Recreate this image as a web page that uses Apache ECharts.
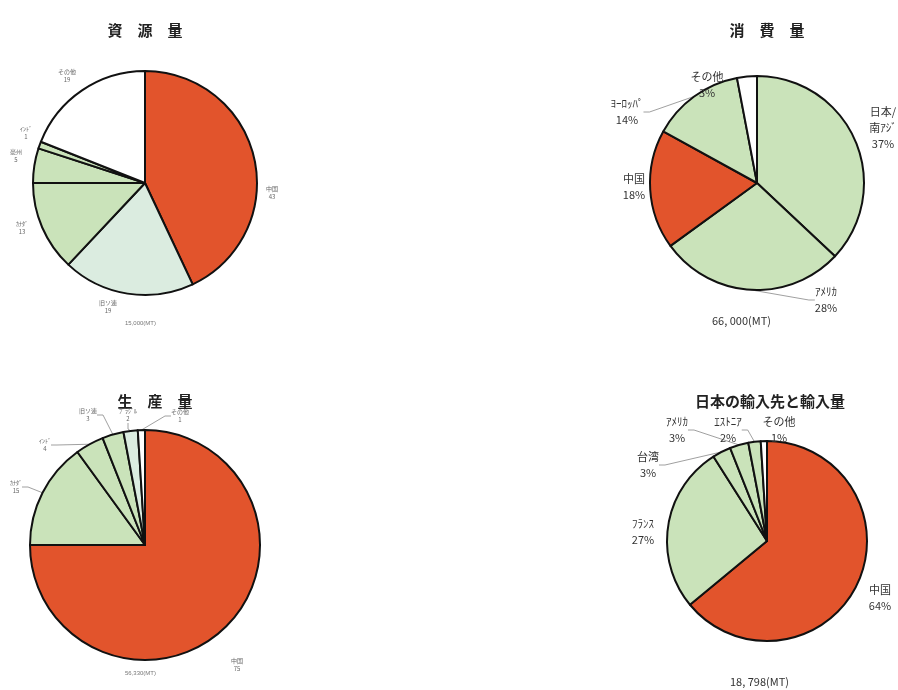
<!DOCTYPE html>
<html><head><meta charset="utf-8">
<script src="https://cdn.jsdelivr.net/npm/echarts@6/dist/echarts.min.js"></script>
<style>html,body{margin:0;padding:0;background:#fff}#c{width:898px;height:690px}</style>
</head><body><div id="c"></div>
<script>
// ---- data ----
const resNames = ['中国', '旧ソ連', 'ｶﾅﾀﾞ', '豪州', 'ｲﾝﾄﾞ', 'その他'];
const resValues = [43, 19, 13, 5, 1, 19];
const conNames = ['日本/\n南ｱｼﾞ', 'ｱﾒﾘｶ', '中国', 'ﾖｰﾛｯﾊﾟ', 'その他'];
const conValues = [37, 28, 18, 14, 3];
const proNames = ['中国', 'ｶﾅﾀﾞ', 'ｲﾝﾄﾞ', '旧ソ連', 'ﾌﾞﾗｼﾞﾙ', 'その他'];
const proValues = [75, 15, 4, 3, 2, 1];
const impNames = ['中国', 'ﾌﾗﾝｽ', '台湾', 'ｱﾒﾘｶ', 'ｴｽﾄﾆｱ', 'その他'];
const impValues = [64, 27, 3, 3, 2, 1];
const totals = ['15,000(MT)', '66, 000(MT)', '56,330(MT)', '18, 798(MT)'];
const titles = ['資　源　量', '消　費　量', '生　産　量', '日本の輸入先と輸入量'];

// ---- styles ----
const RED = '#e2542c', GRN = '#cae3ba', LGT = '#dbece0', WHT = '#ffffff';
const resColors = [RED, LGT, GRN, GRN, GRN, WHT];
const conColors = [GRN, GRN, RED, GRN, WHT];
const proColors = [RED, GRN, GRN, GRN, LGT, WHT];
const impColors = [RED, GRN, GRN, GRN, GRN, WHT];

const resPos = [[272,193],[108,307],[22,228],[16,156],[26,133],[67,76]];
const conPos = [[883,128],[826,300],[634,187],[627,112],[707,85]];
const proPos = [[237,665],[16,487],[45,445],[88,415],[128,415],[180,416]];
const impPos = [[880,598],[643,532],[648,465],[677,430],[728,430],[779,430]];
const conLine = [false,true,false,true,true];
const impLine = [false,false,true,true,true,false];
const resLine = [false,false,false,false,false,false];
const proLine = [false,true,true,true,true,true];

function mk(names, values, colors, lines, center, radius, pos, small){
  return {
    type:'pie', center:center, radius:radius, startAngle:90, clockwise:true,
    animation:false, avoidLabelOverlap:false,
    itemStyle:{borderColor:'#111', borderWidth:2},
    label:{show:true, formatter: small ? '{b}\n{c}' : '{b}\n{c}%',
      fontFamily:'"Noto Sans CJK JP", sans-serif',
      fontSize: small ? 6 : 11, lineHeight: small ? 8 : 16,
      color: small ? '#666' : '#333', align:'center'},
    labelLine:{show:true, length:6, length2:6, lineStyle:{color:'#888', width:0.8}},
    labelLayout: function(p){ const q = pos[p.dataIndex]; return {x:q[0], y:q[1], align:'center', verticalAlign:'middle'}; },
    emphasis:{disabled:true},
    data: names.map((n,i)=>({name:n, value:values[i], itemStyle:{color:colors[i]}, labelLine:{show:lines[i]}}))
  };
}

const chart = echarts.init(document.getElementById('c'), null, {renderer:'canvas'});
const tStyle = {fontFamily:'"Noto Sans CJK JP", sans-serif', fontSize:15, fontWeight:'bold', color:'#222'};
chart.setOption({
  backgroundColor:'#fff',
  title:[
    {text:titles[0], left:140, top:18, textAlign:'center', textStyle:tStyle},
    {text:titles[1], left:762, top:18, textAlign:'center', textStyle:tStyle},
    {text:titles[2], left:150, top:389, textAlign:'center', textStyle:tStyle},
    {text:titles[3], left:765, top:389, textAlign:'center', textStyle:tStyle}
  ],
  graphic:[
    {type:'text', left:125, top:320, style:{text:totals[0], fontSize:6, fill:'#777', fontFamily:'sans-serif'}},
    {type:'text', left:712, top:315, style:{text:totals[1], fontSize:11, fill:'#333', fontFamily:'"Noto Sans CJK JP", sans-serif'}},
    {type:'text', left:125, top:670, style:{text:totals[2], fontSize:6, fill:'#777', fontFamily:'sans-serif'}},
    {type:'text', left:730, top:676, style:{text:totals[3], fontSize:11, fill:'#333', fontFamily:'"Noto Sans CJK JP", sans-serif'}}
  ],
  series:[
    mk(resNames, resValues, resColors, resLine, [145,183], 112, resPos, true),
    mk(conNames, conValues, conColors, conLine, [757,183], 107, conPos, false),
    mk(proNames, proValues, proColors, proLine, [145,545], 115, proPos, true),
    mk(impNames, impValues, impColors, impLine, [767,541], 100, impPos, false)
  ]
});
</script></body></html>
